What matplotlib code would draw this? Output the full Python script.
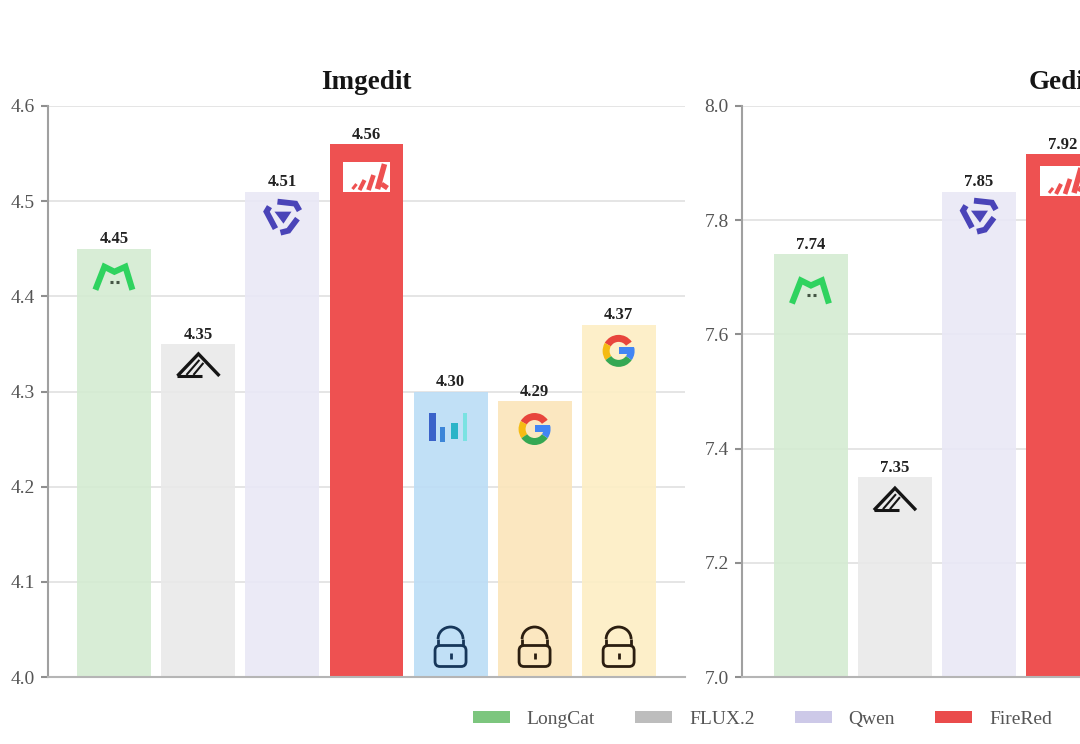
import matplotlib
matplotlib.use("Agg")
import matplotlib.pyplot as plt
from matplotlib.patches import Patch, Polygon, Rectangle, FancyBboxPatch, Wedge, Arc
from matplotlib.transforms import Affine2D, ScaledTranslation

# ── data ──────────────────────────────────────────────────────────────────────
imgedit_values = [4.45, 4.35, 4.51, 4.56, 4.30, 4.29, 4.37]
gedit_values = [7.74, 7.35, 7.85, 7.916]   # red bar sits a little under 7.92 in the picture

imgedit_ticks = [4.0, 4.1, 4.2, 4.3, 4.4, 4.5, 4.6]
gedit_ticks = [7.0, 7.2, 7.4, 7.6, 7.8, 8.0]

legend_names = ["LongCat", "FLUX.2", "Qwen", "FireRed"]
legend_colors = ["#7cc67e", "#bdbdbd", "#cdc9e8", "#ea4b4b"]

bar_colors = ["#d4ebd2", "#e9e9e9", "#e9e8f6", "#ee5151", "#bbddf6", "#fbe5ba", "#fdeec4"]
bar_alpha = [0.9, 0.9, 0.9, 1.0, 0.9, 0.9, 0.9]
icon_kind = ["cat", "flux", "qwen", "red", "chart", "google", "google"]
imgedit_icon_dy = [-29, -23, -24, -33, -35, -28, -26]
gedit_icon_dy = [-37, -24, -23, -27]
locked = [4, 5, 6]
lock_colors = {4: "#17375a", 5: "#2b1e10", 6: "#2b1e10"}

plt.rcParams["font.family"] = ["Liberation Serif", "DejaVu Serif"]


# ── icons (drawn in pixels around a bar anchor) ───────────────────────────────
def anchor(ax, x, y, dy):
    return Affine2D().translate(0, dy) + ScaledTranslation(x, y, ax.transData)


def stroke(ax, tf, xs, ys, color, lw, z=4):
    ax.plot(xs, ys, transform=tf, color=color, lw=lw, solid_capstyle="butt",
            solid_joinstyle="miter", zorder=z)


def draw_cat(ax, tf):
    stroke(ax, tf, [-19, -10, 0, 11, 18], [-12, 11, 6, 11, -12], "#2fd35f", 4.4)
    stroke(ax, tf, [-4, -1], [-4, -4], "#445544", 2.2)
    stroke(ax, tf, [2, 5], [-4, -4], "#445544", 2.2)


def draw_flux(ax, tf):
    stroke(ax, tf, [-21, 0, 21], [-9, 13, -9], "#151515", 2.4)
    stroke(ax, tf, [-21, 4], [-9, -9], "#151515", 2.2)
    stroke(ax, tf, [-12, 1], [-8, 7], "#151515", 1.5)
    stroke(ax, tf, [-5, 5], [-8, 4], "#151515", 1.5)


def draw_qwen(ax, tf):
    blue = "#4a44b8"
    stroke(ax, tf, [-5, 13, 17], [14, 12, 5], blue, 4.2)
    stroke(ax, tf, [15, 6, -2], [-3, -15, -17], blue, 4.2)
    stroke(ax, tf, [-7, -16, -13], [-13, 4, 9], blue, 4.2)
    ax.add_patch(Polygon([(-8, 4), (9, 4), (1, -8)], transform=tf, color=blue, lw=0, zorder=4))


def draw_red(ax, tf):
    ax.add_patch(Rectangle((-23, -15), 47, 30, transform=tf, color="white", lw=0, zorder=4))
    red = "#ee5151"
    stroke(ax, tf, [-14, -10], [-12, -7], red, 2.2, 5)
    stroke(ax, tf, [-7, -2], [-13, -3], red, 3.0, 5)
    stroke(ax, tf, [2, 7], [-13, 2], red, 3.4, 5)
    stroke(ax, tf, [11, 18], [-12, 13], red, 4.0, 5)
    stroke(ax, tf, [15, 21], [-7, -11], red, 3.6, 5)


def draw_chart(ax, tf):
    ax.add_patch(Rectangle((-22, -14), 7, 28, transform=tf, color="#3a62c9", lw=0, zorder=4))
    ax.add_patch(Rectangle((-11, -15), 5, 15, transform=tf, color="#3d86d8", lw=0, zorder=4))
    ax.add_patch(Rectangle((0, -12), 7, 16, transform=tf, color="#2cb4c8", lw=0, zorder=4))
    ax.add_patch(Rectangle((12, -14), 4, 28, transform=tf, color="#7ae2e2", lw=0, zorder=4))


def draw_google(ax, tf):
    parts = [(35, 150, "#e8453c"), (150, 215, "#f5bb14"), (215, 325, "#35a853"), (325, 372, "#4285f4")]
    for a0, a1, c in parts:
        ax.add_patch(Wedge((0, 0), 16, a0, a1, width=7, transform=tf, color=c, lw=0, zorder=4))
    ax.add_patch(Rectangle((0, -3), 15, 7, transform=tf, color="#4285f4", lw=0, zorder=4))


def draw_lock(ax, tf, color):
    ax.add_patch(FancyBboxPatch((-13, 13), 26, 16, boxstyle="round,pad=2.5,rounding_size=5",
                                transform=tf, fc="none", ec=color, lw=2, zorder=4))
    ax.add_patch(Arc((0, 38), 25, 24, theta1=0, theta2=180, transform=tf, ec=color, lw=2, zorder=4))
    stroke(ax, tf, [-12.5, -12.5], [31, 38], color, 2)
    stroke(ax, tf, [12.5, 12.5], [31, 38], color, 2)
    stroke(ax, tf, [0, 0], [18, 24], color, 2)


icon_draw = {"cat": draw_cat, "flux": draw_flux, "qwen": draw_qwen, "red": draw_red,
             "chart": draw_chart, "google": draw_google}


# ── panels ────────────────────────────────────────────────────────────────────
def panel(ax, values, ymin, ymax, ticks, title, icon_dy, x0):
    ax.set_xlim(x0, x0 + 7.58)
    ax.set_ylim(ymin, ymax)
    ax.set_yticks(ticks)
    ax.set_yticklabels(["%.1f" % t for t in ticks], fontsize=14, color="#555555")
    ax.set_xticks([])
    ax.tick_params(axis="y", length=5, width=1.5, color="#8f8f8f", pad=4.5)
    ax.grid(axis="y", color="#dedede", lw=1.1, zorder=1)
    ax.set_axisbelow(True)
    for side in ("top", "right"):
        ax.spines[side].set_visible(False)
    ax.spines["left"].set_color("#a0a0a0")
    ax.spines["bottom"].set_color("#b5b5b5")
    ax.spines["left"].set_linewidth(1.5)
    ax.spines["bottom"].set_linewidth(1.5)

    for i, v in enumerate(values):
        ax.bar(i, v - ymin, bottom=ymin, width=0.88, color=bar_colors[i], alpha=bar_alpha[i], zorder=2)
        ax.annotate("%.2f" % v, (i, v), xytext=(0, 1), textcoords="offset points",
                    ha="center", va="bottom", fontsize=12, fontweight="bold", color="#222222", zorder=6)
        icon_draw[icon_kind[i]](ax, anchor(ax, i, v, icon_dy[i]))
        if i in locked:
            draw_lock(ax, anchor(ax, i, ymin, 0), lock_colors[i])

    ax.set_title(title, fontsize=19.5, fontweight="bold", color="#151515", pad=12.5)


W, H = 1080, 744
fig = plt.figure(figsize=(W / 100, H / 100), dpi=100)
ax1 = fig.add_axes([48 / W, (H - 677) / H, 637 / W, 571 / H])
ax2 = fig.add_axes([742 / W, (H - 677) / H, 637 / W, 571 / H])

panel(ax1, imgedit_values, 4.0, 4.6, imgedit_ticks, "Imgedit", imgedit_icon_dy, -0.79)
panel(ax2, gedit_values, 7.0, 8.0, gedit_ticks, "Gedit", gedit_icon_dy, -0.82)

handles = [Patch(facecolor=c, edgecolor="none", label=n) for n, c in zip(legend_names, legend_colors)]
leg = fig.legend(handles=handles, loc="lower left", bbox_to_anchor=(473 / W, 16 / H), ncol=4,
                 frameon=False, fontsize=14, handlelength=1.9, handleheight=0.55,
                 handletextpad=0.87, columnspacing=2.06, borderpad=0, borderaxespad=0)
for t in leg.get_texts():
    t.set_color("#555555")

fig.savefig("out.png", dpi=100)
